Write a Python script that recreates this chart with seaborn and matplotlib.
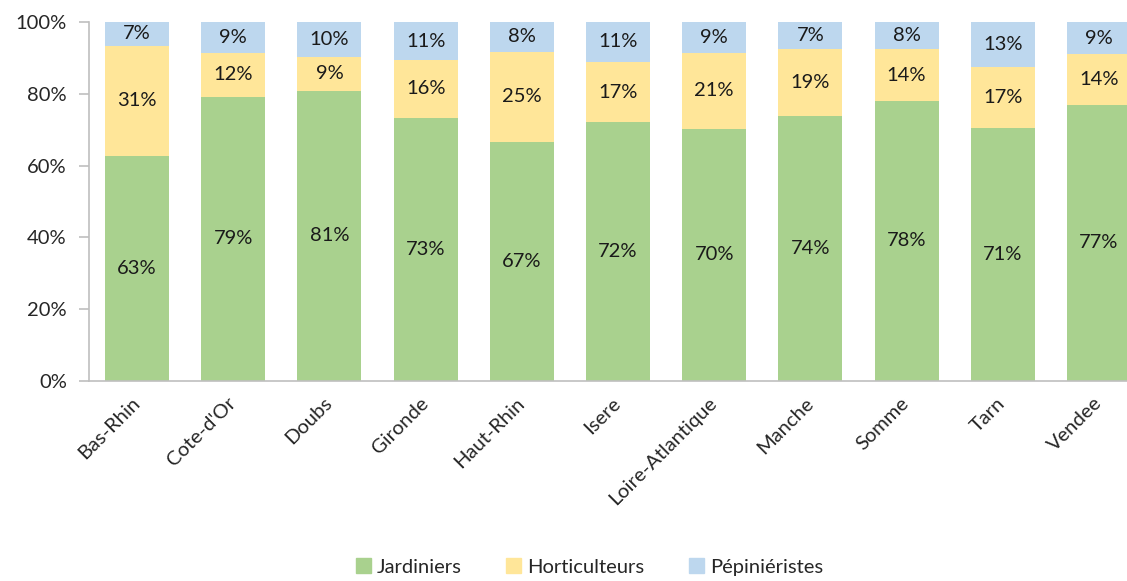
import numpy as np
import pandas as pd
import matplotlib
matplotlib.use('Agg')
import matplotlib.pyplot as plt
import seaborn as sns
from matplotlib.ticker import PercentFormatter
from matplotlib.patches import Patch

sns.set_style('white')
plt.rcParams['font.family'] = ['Lato', 'DejaVu Sans']

# données (part en %)
departements = ['Bas-Rhin', "Cote-d'Or", 'Doubs', 'Gironde', 'Haut-Rhin', 'Isere',
                'Loire-Atlantique', 'Manche', 'Somme', 'Tarn', 'Vendee']
jardiniers = [62.6, 79.2, 80.9, 73.3, 66.6, 72.1, 70.3, 73.9, 78.0, 70.6, 76.9]
horticulteurs = [30.8, 12.1, 9.4, 16.1, 25.1, 16.8, 21.0, 18.7, 14.4, 16.8, 14.1]
pepinieristes = [6.6, 8.7, 9.7, 10.6, 8.3, 11.1, 8.7, 7.4, 7.6, 12.6, 9.0]

series = ['Jardiniers', 'Horticulteurs', 'Pépiniéristes']
couleurs = ['#A9D18E', '#FFE699', '#BDD7EE']

df = pd.DataFrame({'dep': departements, 'Jardiniers': jardiniers,
                   'Horticulteurs': horticulteurs, 'Pépiniéristes': pepinieristes})

fig = plt.figure(figsize=(11.27, 5.81), dpi=100)
ax = fig.add_axes([89 / 1127, 1 - 381 / 581, 1058 / 1127, 359 / 581])

bas = np.zeros(len(df))
for s, c in zip(series, couleurs):
    sns.barplot(data=df, x='dep', y=s, color=c, bottom=bas, width=0.665,
                saturation=1, ax=ax, linewidth=0)
    for i, v in enumerate(df[s]):
        ax.text(i, bas[i] + v / 2, '{:.0f}%'.format(v), ha='center', va='center',
                fontsize=14.5, color='#1a1a1a')
    bas = bas + df[s].values

ax.set_xlim(-0.5, len(df) - 0.5)
ax.set_ylim(0, 100)
ax.set_yticks(np.arange(0, 101, 20))
ax.yaxis.set_major_formatter(PercentFormatter(decimals=0))
ax.set_xlabel('')
ax.set_ylabel('')

for sp in ['top', 'right']:
    ax.spines[sp].set_visible(False)
for sp in ['left', 'bottom']:
    ax.spines[sp].set_color('#BFBFBF')
    ax.spines[sp].set_linewidth(1.2)

ax.tick_params(axis='y', length=7, color='#BFBFBF', width=1.2, labelsize=14.5,
               labelcolor='#262626', pad=9, left=True)
ax.tick_params(axis='x', length=0, labelsize=14.5, labelcolor='#262626', pad=14)
plt.setp(ax.get_xticklabels(), rotation=45, ha='right', va='center',
         rotation_mode='anchor')

handles = [Patch(color=c, label=s) for s, c in zip(series, couleurs)]
leg = fig.legend(handles=handles, loc='center', bbox_to_anchor=(0.523, 0.024), ncol=3,
                 frameon=False, fontsize=14.5, handlelength=0.75, handleheight=0.75,
                 handletextpad=0.3, columnspacing=2.2)
for t in leg.get_texts():
    t.set_color('#262626')

fig.savefig('out.png', dpi=100)
